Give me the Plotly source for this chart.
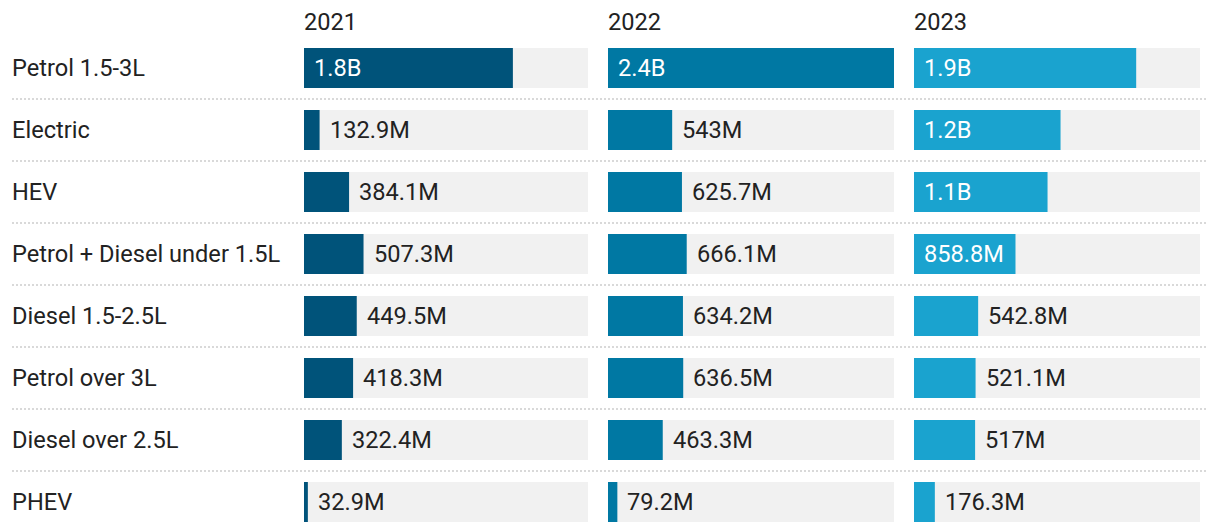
import plotly.graph_objects as go

categories = ["Petrol 1.5-3L", "Electric", "HEV", "Petrol + Diesel under 1.5L",
              "Diesel 1.5-2.5L", "Petrol over 3L", "Diesel over 2.5L", "PHEV"]
years = ["2021", "2022", "2023"]
# values in millions
values_2021 = [1780, 132.9, 384.1, 507.3, 449.5, 418.3, 322.4, 32.9]
values_2022 = [2420, 543.0, 625.7, 666.1, 634.2, 636.5, 463.3, 79.2]
values_2023 = [1880, 1240, 1130, 858.8, 542.8, 521.1, 517.0, 176.3]
series = [values_2021, values_2022, values_2023]
colors = ["#00537a", "#0078a3", "#1aa3cf"]
bg_color = "#f1f1f1"
text_dark = "#222222"
FS = 23.6

# page body has an 8px margin; lay out in page coordinates minus this offset
OFF = 8
W, H = 1212, 524
domains = [(304 - OFF, 588 - OFF), (608 - OFF, 894 - OFF), (914 - OFF, 1200 - OFF)]
xmax = max(max(s) for s in series)

# row geometry (page px): first row centre and row pitch
ROW0, PITCH, BAR_H = 68 - OFF, 62.0, 40.0
y_top_val = (0 - ROW0) / PITCH
y_bot_val = (H - ROW0) / PITCH


def fmt(v):
    if v >= 1000:
        return f"{v/1000:.1f}B"
    s = f"{v:.1f}"
    if s.endswith(".0"):
        s = s[:-2]
    return s + "M"


fig = go.Figure()
annotations = []
for i, (yr, vals, col) in enumerate(zip(years, series, colors)):
    xa = "x" if i == 0 else f"x{i+1}"
    fig.add_trace(go.Bar(y=categories, x=[xmax] * len(categories), orientation="h",
                         marker=dict(color=bg_color, line=dict(width=0)),
                         xaxis=xa, yaxis="y", hoverinfo="skip", showlegend=False))
    fig.add_trace(go.Bar(y=categories, x=vals, orientation="h",
                         marker=dict(color=col, line=dict(width=0)),
                         xaxis=xa, yaxis="y", name=yr, showlegend=False))
    for c, v in zip(categories, vals):
        inside = v >= 800
        annotations.append(dict(
            xref=xa, yref="y", x=0 if inside else v, y=c, xanchor="left", yanchor="middle",
            xshift=8, text=fmt(v), showarrow=False,
            font=dict(family="Roboto", size=FS, color="#ffffff" if inside else text_dark)))
    annotations.append(dict(
        xref=f"{xa} domain", yref="paper", x=0, y=1 - (22 - OFF) / H, xanchor="left",
        yanchor="middle", text=yr, showarrow=False, xshift=-2,
        font=dict(family="Roboto", size=FS, color=text_dark)))

for c in categories:
    annotations.append(dict(xref="paper", yref="y", x=(12 - OFF) / W, y=c, xanchor="left",
                            yanchor="middle", text=c, showarrow=False, xshift=-2,
                            font=dict(family="Roboto", size=FS, color=text_dark)))

shapes = []
for k in range(len(categories) - 1):
    shapes.append(dict(type="line", xref="paper", yref="y", x0=(12 - OFF) / W,
                       x1=(1208 - OFF) / W, y0=k + 0.5, y1=k + 0.5,
                       line=dict(color="#d9d9d9", width=2, dash="2px,2px")))

layout = dict(
    width=W, height=H, margin=dict(l=0, r=0, t=0, b=0),
    paper_bgcolor="white", plot_bgcolor="white",
    barmode="overlay", bargap=1 - BAR_H / PITCH,
    font=dict(family="Roboto", size=FS, color=text_dark),
    yaxis=dict(domain=[0, 1], range=[y_bot_val, y_top_val],
               showticklabels=False, showgrid=False, zeroline=False, showline=False,
               categoryorder="array", categoryarray=categories, fixedrange=True),
    annotations=annotations, shapes=shapes,
)
for i, (a, b) in enumerate(domains):
    key = "xaxis" if i == 0 else f"xaxis{i+1}"
    layout[key] = dict(domain=[a / W, b / W], range=[0, xmax], anchor="y",
                       showticklabels=False, showgrid=False, zeroline=False, showline=False,
                       fixedrange=True)
fig.update_layout(**layout)
fig.write_html("out.html")
